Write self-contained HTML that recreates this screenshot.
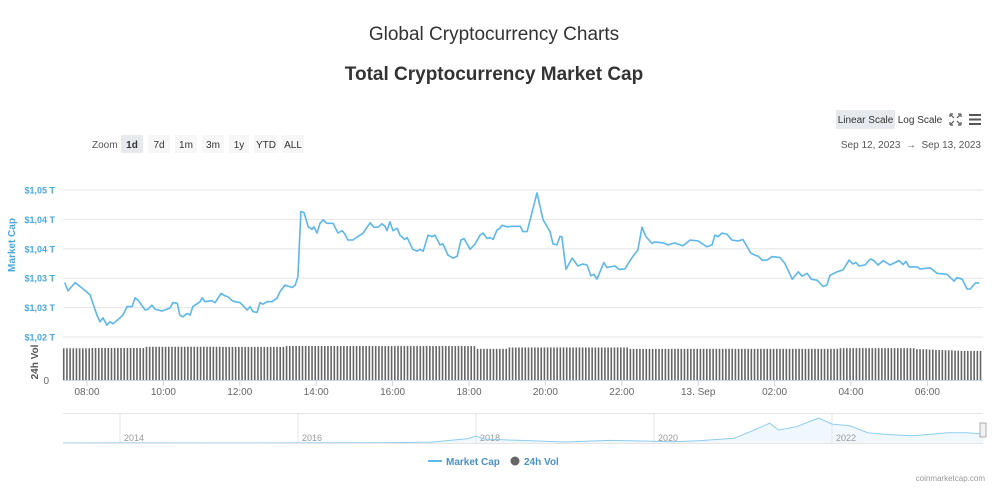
<!DOCTYPE html>
<html><head><meta charset="utf-8">
<style>
html,body{margin:0;padding:0;background:#fff;width:1000px;height:496px;overflow:hidden;font-family:"Liberation Sans",sans-serif;}
svg{display:block}
</style></head>
<body>
<svg id="c" width="1000" height="496" viewBox="0 0 1000 496">
<text x="494" y="40" text-anchor="middle" font-size="19" fill="#333">Global Cryptocurrency Charts</text>
<text x="494" y="80" text-anchor="middle" font-size="19" font-weight="bold" fill="#333">Total Cryptocurrency Market Cap</text>
<g><rect x="836" y="110" width="59" height="19" fill="#e6e9ee"/><text x="865.5" y="123" text-anchor="middle" font-size="10" fill="#333">Linear Scale</text></g>
<g><text x="920" y="123" text-anchor="middle" font-size="10" fill="#333">Log Scale</text></g>
<g stroke="#555" stroke-width="1.2" fill="none"><path d="M950 114h3M950 114v3M961 114h-3M961 114v3M950 125h3M950 125v-3M961 125h-3M961 125v-3M951 115l3 3M960 115l-3 3M951 124l3-3M960 124l-3-3"/></g>
<g fill="#555"><rect x="969" y="114" width="12" height="2"/><rect x="969" y="118.5" width="12" height="2"/><rect x="969" y="123" width="12" height="2"/></g>
<text x="92" y="148" font-size="10" fill="#555">Zoom</text>
<g id="zoombtns" font-size="10" fill="#333"></g>
<text x="981" y="148" text-anchor="end" font-size="10" fill="#555">Sep 12, 2023 &#160;→&#160; Sep 13, 2023</text>
<g id="grid"></g>
<text transform="translate(15,245) rotate(-90)" text-anchor="middle" font-size="10" font-weight="bold" fill="#4aa8e0">Market Cap</text>
<text transform="translate(38,362) rotate(-90)" text-anchor="middle" font-size="10" font-weight="bold" fill="#555">24h Vol</text>
<text x="49" y="384" text-anchor="end" font-size="10" fill="#666">0</text>
<g id="vol"></g>
<path id="line" fill="none" stroke="#5cb7ec" stroke-width="1.6" stroke-linejoin="round"/>
<line x1="63" y1="380.5" x2="983" y2="380.5" stroke="#ccd6eb"/>
<g id="xaxis" font-size="10" fill="#666"></g>
<g id="nav"></g>
<g>
<g><line x1="428" y1="461" x2="442" y2="461" stroke="#5cb7ec" stroke-width="2"/><text x="446" y="465" font-size="10" font-weight="bold" fill="#4a90c8">Market Cap</text></g>
<g><circle cx="515" cy="461" r="4.5" fill="#666"/><text x="524" y="465" font-size="10" font-weight="bold" fill="#4a90c8">24h Vol</text></g>
</g>
<text x="985" y="481" text-anchor="end" font-size="8" fill="#999">coinmarketcap.com</text>
</svg>
<script>
const yTicks=[1.020,1.026,1.032,1.038,1.044,1.050];
const xTickHours=[8,10,12,14,16,18,20,22,24,26,28,30];
const xTickLabels=["08:00","10:00","12:00","14:00","16:00","18:00","20:00","22:00","13. Sep","02:00","04:00","06:00"];
const zoomLabels=["1d","7d","1m","3m","1y","YTD","ALL"];
const hours=[7.42,7.50,7.69,7.82,8.08,8.26,8.34,8.42,8.52,8.60,8.68,8.86,8.94,9.05,9.18,9.26,9.34,9.52,9.60,9.70,9.78,9.96,10.17,10.25,10.36,10.43,10.51,10.62,10.70,10.77,10.96,11.01,11.09,11.27,11.35,11.51,11.61,11.69,11.82,12.01,12.19,12.27,12.34,12.45,12.53,12.61,12.71,12.84,12.97,13.05,13.18,13.37,13.45,13.52,13.60,13.68,13.79,13.89,13.94,14.02,14.10,14.18,14.28,14.44,14.57,14.68,14.75,14.83,14.96,15.09,15.23,15.41,15.51,15.62,15.72,15.80,15.85,15.93,16.01,16.12,16.19,16.32,16.38,16.53,16.64,16.72,16.80,16.93,17.03,17.11,17.24,17.32,17.45,17.58,17.69,17.79,17.87,18.03,18.16,18.29,18.37,18.47,18.55,18.63,18.73,18.81,18.86,19.00,19.15,19.34,19.41,19.52,19.78,19.94,20.12,20.20,20.30,20.38,20.43,20.54,20.70,20.85,20.98,21.09,21.19,21.27,21.35,21.53,21.61,21.82,21.93,22.08,22.29,22.42,22.53,22.63,22.79,22.87,23.08,23.21,23.39,23.60,23.79,24.00,24.23,24.36,24.44,24.52,24.62,24.75,24.88,25.04,25.17,25.38,25.49,25.57,25.67,25.80,25.93,26.14,26.27,26.46,26.62,26.72,26.85,26.96,27.11,27.27,27.37,27.45,27.63,27.79,27.95,28.05,28.13,28.21,28.37,28.50,28.58,28.71,28.84,29.02,29.26,29.36,29.44,29.52,29.73,29.81,30.07,30.25,30.51,30.70,30.77,30.91,31.04,31.12,31.25,31.35];
const marketCap=[1.0311,1.0294,1.0311,1.0303,1.0286,1.0245,1.0231,1.0239,1.0224,1.0231,1.0227,1.0239,1.0245,1.0262,1.0262,1.0280,1.0275,1.0255,1.0257,1.0265,1.0257,1.0253,1.0259,1.0270,1.0269,1.0245,1.0241,1.0248,1.0245,1.0262,1.0272,1.0280,1.0272,1.0274,1.0270,1.0289,1.0284,1.0282,1.0273,1.0270,1.0255,1.0262,1.0252,1.0250,1.0270,1.0267,1.0272,1.0272,1.0279,1.0292,1.0306,1.0301,1.0306,1.0323,1.0456,1.0454,1.0425,1.0420,1.0425,1.0412,1.0432,1.0439,1.0432,1.0432,1.0412,1.0417,1.0410,1.0398,1.0398,1.0405,1.0412,1.0433,1.0424,1.0424,1.0431,1.0426,1.0417,1.0435,1.0417,1.0422,1.0408,1.0399,1.0403,1.0379,1.0375,1.0379,1.0375,1.0408,1.0405,1.0408,1.0388,1.0390,1.0367,1.0361,1.0365,1.0398,1.0401,1.0379,1.0390,1.0408,1.0412,1.0401,1.0403,1.0399,1.0418,1.0422,1.0428,1.0425,1.0426,1.0426,1.0415,1.0415,1.0494,1.0439,1.0415,1.0390,1.0388,1.0405,1.0405,1.0338,1.0361,1.0345,1.0349,1.0347,1.0325,1.0328,1.0318,1.0352,1.0342,1.0345,1.0338,1.0339,1.0365,1.0377,1.0424,1.0405,1.0391,1.0394,1.0392,1.0388,1.0392,1.0386,1.0398,1.0396,1.0384,1.0388,1.0408,1.0405,1.0412,1.0410,1.0398,1.0396,1.0399,1.0371,1.0367,1.0365,1.0357,1.0357,1.0364,1.0362,1.0350,1.0318,1.0333,1.0324,1.0330,1.0318,1.0316,1.0303,1.0306,1.0326,1.0333,1.0337,1.0357,1.0349,1.0352,1.0345,1.0347,1.0359,1.0357,1.0347,1.0356,1.0347,1.0356,1.0348,1.0354,1.0343,1.0343,1.0339,1.0341,1.0330,1.0328,1.0314,1.0321,1.0318,1.0298,1.0298,1.0310,1.0310];
const volume=[
90.6,90.6,90.6,90.6,90.6,90.6,90.6,90.6,90.6,91.5,91.5,91.5,91.5,91.5,91.5,91.5,91.5,91.5,91.5,91.5,91.5,91.5,91.5,91.5,91.5,91.5,
95,95,95,95,95,95,95,95,95,95,95,95,95,95,95,95,95,95,95,95,95,95,95,95,94.5,94.5,94.5,94.5,94.5,94.5,94.5,94.5,94.5,94.5,94.5,94.5,94.5,94.5,94.5,94.5,94.5,94.5,94.5,94.5,
97,97,97,97,97,97,97,97,97,97,97,97,97,97,97,97,97,97,97,97,97,97,97,97,97,97,97,97,97,97,97,97,97,97,97,97,97,97,97,97,97,97,97,97,97,97,97,97,97,97,97,97,97,97,97,97,97,97,97,97,
89,89,89,89,89,89,89,89,89,89,
93,93,93,93,93,93,93,93,93,93,93,93,93,93,93,93,93,93,93,93,93,93,93,93,93,93,93,93,93,93,93,93,93,93,93,93,93,93,
89,89,89,89,89,89,89,89,89,89,89,89,89,89,89,89,89,89,89,89,89,89,89,89,89,89,89,89,89,89,89,89,89,89,89,89,89,89,89,89,89,89,89,89,89,89,89,89,89,89,89,89,89,89,89,89,89,89,89,89,89,89,89,89,89,89,
91,91,91,91,91,91,91,91,91,91,91,91,91,91,91,91,91,91,91,91,91,91,91,91,
88,88,88,88,87,87,86,86,86,85,85,85,84,84,83,83,83,83,83,83,83];
const volStartHour=7.37;
const navYears=[2013.36,2014,2015,2016,2017,2017.5,2017.9,2018.0,2018.1,2018.5,2019,2019.5,2020,2020.2,2020.5,2020.9,2021.1,2021.3,2021.4,2021.6,2021.85,2022.0,2022.2,2022.4,2022.6,2022.9,2023.1,2023.3,2023.5,2023.7];
const navCaps=[0.001,0.01,0.005,0.007,0.02,0.1,0.5,0.8,0.45,0.3,0.12,0.3,0.2,0.15,0.27,0.55,1.4,2.3,1.5,1.9,2.9,2.2,2.0,1.2,1.0,0.85,1.0,1.2,1.2,1.06];
const navTickYears=[2014,2016,2018,2020,2022];

const NS="http://www.w3.org/2000/svg";
function mk(tag,attrs,parent){const e=document.createElementNS(NS,tag);for(const k in attrs)e.setAttribute(k,attrs[k]);parent.appendChild(e);return e;}
const X=h=>87+(h-8)*38.2;
const Y=v=>337-(v-1.02)/0.03*147;
const VY=v=>380-v*0.35;
const NX=yr=>120+(yr-2014)*89;
const NY=c=>443-c*8.6;

const zb=document.getElementById('zoombtns');
const zx=[121,148,175,202,229,254,282],zw=[22,22,22,22,20,24,22];
zoomLabels.forEach((l,i)=>{
  const g=mk('g',{},zb);
  
  
  mk('rect',{x:zx[i],y:135,width:zw[i],height:18,fill:i===0?'#e6e9ee':'#f7f7f7'},g);
  const t=mk('text',{x:zx[i]+zw[i]/2,y:148,'text-anchor':'middle','font-weight':i===0?'bold':'normal'},g);
  t.textContent=l;
});

const grid=document.getElementById('grid');
yTicks.forEach(v=>{
  const l=mk('line',{x1:63,x2:983,y1:Y(v),y2:Y(v),stroke:'#e6e6e6'},grid);
  
  
  const t=mk('text',{x:55,y:Y(v)+3.5,'text-anchor':'end','font-size':9,'font-weight':'bold',fill:'#4aa8e0'},grid);
  
  
  t.textContent='$'+v.toFixed(2).replace('.',',')+' T';
});

const vg=document.getElementById('vol');
volume.forEach((v,i)=>{
  const x=X(volStartHour+i/12);
  const r=mk('rect',{x:x,y:VY(v),width:1.6,height:380-VY(v),fill:'#666'},vg);
  
  
});

document.getElementById('line').setAttribute('d',hours.map((h,i)=>(i?'L':'M')+X(h).toFixed(1)+' '+Y(marketCap[i]).toFixed(1)).join(''));

const xa=document.getElementById('xaxis');
xTickHours.forEach((h,i)=>{
  const tk=mk('line',{x1:X(h),x2:X(h),y1:380,y2:386,stroke:'#ccd6eb'},xa);
  
  
  const t=mk('text',{x:X(h),y:395,'text-anchor':'middle'},xa);
  
  
  t.textContent=xTickLabels[i];
});

const nav=document.getElementById('nav');
mk('line',{x1:63,x2:983,y1:413.5,y2:413.5,stroke:'#e6e6e6'},nav);
const pts=navYears.map((yr,i)=>NX(yr).toFixed(1)+' '+NY(navCaps[i]).toFixed(1));
const area=mk('path',{d:'M'+pts.join('L')+'L'+NX(navYears[navYears.length-1])+' 443L'+NX(navYears[0])+' 443Z',fill:'#f1f8fd'},nav);


navTickYears.forEach(yr=>{
  const l=mk('line',{x1:NX(yr),x2:NX(yr),y1:414,y2:443,stroke:'#e6e6e6'},nav);
  
  
  const t=mk('text',{x:NX(yr)+4,y:441,'font-size':9,fill:'#999'},nav);
  
  
  t.textContent=yr;
});
const nl=mk('path',{d:'M'+pts.join('L'),fill:'none',stroke:'#8ecdf0','stroke-width':1},nav);


mk('line',{x1:63,x2:983,y1:443.5,y2:443.5,stroke:'#e6e6e6'},nav);
const hd=mk('rect',{x:980,y:423,width:6,height:14,fill:'#f2f2f2',stroke:'#999','stroke-width':0.8},nav);


</script>
</body></html>
